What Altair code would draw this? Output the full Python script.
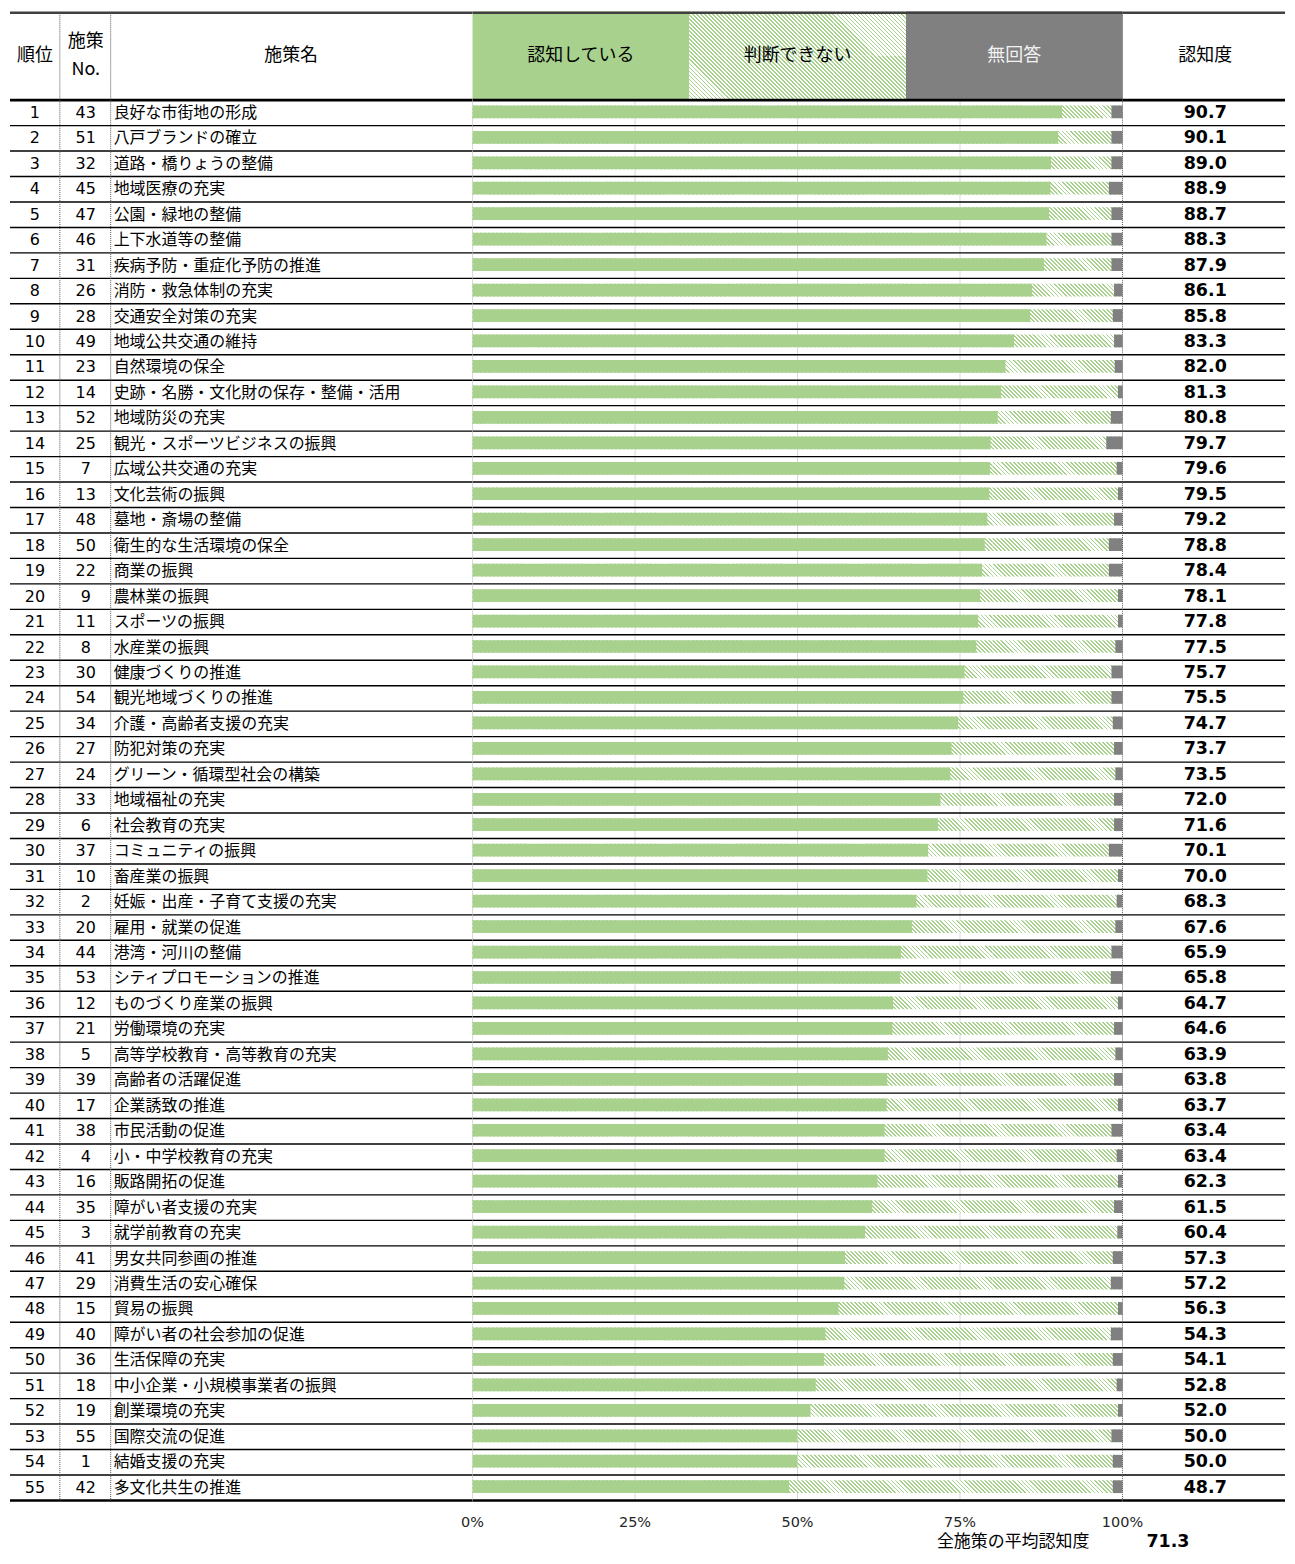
import altair as alt
import pandas as pd

# ---------------- data ----------------
ranks = list(range(1, 56))
policy_no = [43, 51, 32, 45, 47, 46, 31, 26, 28, 49, 23, 14, 52, 25, 7, 13, 48, 50, 22, 9,
             11, 8, 30, 54, 34, 27, 24, 33, 6, 37, 10, 2, 20, 44, 53, 12, 21, 5, 39, 17,
             38, 4, 16, 35, 3, 41, 29, 15, 40, 36, 18, 19, 55, 1, 42]
names = ["良好な市街地の形成", "八戸ブランドの確立", "道路・橋りょうの整備", "地域医療の充実",
         "公園・緑地の整備", "上下水道等の整備", "疾病予防・重症化予防の推進", "消防・救急体制の充実",
         "交通安全対策の充実", "地域公共交通の維持", "自然環境の保全", "史跡・名勝・文化財の保存・整備・活用",
         "地域防災の充実", "観光・スポーツビジネスの振興", "広域公共交通の充実", "文化芸術の振興",
         "墓地・斎場の整備", "衛生的な生活環境の保全", "商業の振興", "農林業の振興", "スポーツの振興",
         "水産業の振興", "健康づくりの推進", "観光地域づくりの推進", "介護・高齢者支援の充実",
         "防犯対策の充実", "グリーン・循環型社会の構築", "地域福祉の充実", "社会教育の充実",
         "コミュニティの振興", "畜産業の振興", "妊娠・出産・子育て支援の充実", "雇用・就業の促進",
         "港湾・河川の整備", "シティプロモーションの推進", "ものづくり産業の振興", "労働環境の充実",
         "高等学校教育・高等教育の充実", "高齢者の活躍促進", "企業誘致の推進", "市民活動の促進",
         "小・中学校教育の充実", "販路開拓の促進", "障がい者支援の充実", "就学前教育の充実",
         "男女共同参画の推進", "消費生活の安心確保", "貿易の振興", "障がい者の社会参加の促進",
         "生活保障の充実", "中小企業・小規模事業者の振興", "創業環境の充実", "国際交流の促進",
         "結婚支援の充実", "多文化共生の推進"]
recognized = [90.7, 90.1, 89.0, 88.9, 88.7, 88.3, 87.9, 86.1, 85.8, 83.3, 82.0, 81.3, 80.8,
              79.7, 79.6, 79.5, 79.2, 78.8, 78.4, 78.1, 77.8, 77.5, 75.7, 75.5, 74.7, 73.7,
              73.5, 72.0, 71.6, 70.1, 70.0, 68.3, 67.6, 65.9, 65.8, 64.7, 64.6, 63.9, 63.8,
              63.7, 63.4, 63.4, 62.3, 61.5, 60.4, 57.3, 57.2, 56.3, 54.3, 54.1, 52.8, 52.0,
              50.0, 50.0, 48.7]
no_answer = [1.7, 1.7, 1.7, 2.1, 1.7, 1.7, 1.7, 1.3, 1.5, 1.3, 1.2,
             0.7, 1.8, 2.5, 0.9, 0.7, 1.3, 2.1, 2.1, 0.7, 0.7, 1.1,
             1.7, 1.7, 1.5, 1.3, 1.1, 1.3, 1.3, 2.1, 0.7, 0.9, 1.1,
             1.7, 1.8, 0.7, 1.3, 1.1, 1.3, 0.7, 1.7, 0.9, 0.7, 1.3,
             0.8, 1.5, 1.8, 0.7, 1.8, 1.5, 0.9, 0.7, 1.7, 1.5, 1.5]
average = 71.3
tick_values = [0, 25, 50, 75, 100]
tick_labels = ["0%", "25%", "50%", "75%", "100%"]
legend_labels = ["認知している", "判断できない", "無回答"]

# ---------------- layout / style ----------------
GREEN = "#a9d18e"
GRAY = "#808080"
JP = "Noto Sans CJK JP"
NUM = "DejaVu Sans"
ROW = 25.54
HEAD = 89 / ROW
H = 1542
BOTTOM = H / ROW - HEAD
ROWPX = H / (HEAD + BOTTOM)
LEFT_W, BAR_W, RIGHT_W = 464, 652, 163
BAR_TOP, BAR_BOT = 0.21, 0.71
N = len(ranks)
TOP = -HEAD + 0.05
AXIS_Y = 55.88
FOOT_Y = 56.62

df = pd.DataFrame({
    "rank": ranks, "no": policy_no, "name": names,
    "recog": recognized, "noans": no_answer,
})
df["yc"] = df["rank"] - 0.5
df["yb1"] = df["rank"] - 1 + BAR_TOP
df["yb2"] = df["rank"] - 1 + BAR_BOT
df["start"] = 0
df["end"] = 100
df["na_start"] = 100 - df["noans"]
df["label"] = df["recog"].map(lambda v: f"{v:.1f}")

ys = alt.Scale(domain=[-HEAD, BOTTOM], reverse=True, nice=False, zero=False)


def Y(f):
    return alt.Y(f"{f}:Q", scale=ys, axis=None)


def Y2(f):
    return alt.Y2(f"{f}:Q")


thin_lines = pd.DataFrame({"y": [i for i in range(1, N)]})
thick_lines = pd.DataFrame({"y": [0, N]})
top_line = pd.DataFrame({"y": [TOP]})


def row_lines():
    return [
        alt.Chart(thin_lines).mark_rule(color="#000000", strokeWidth=1.4).encode(y=Y("y")),
        alt.Chart(thick_lines).mark_rule(color="#000000", strokeWidth=2.6).encode(y=Y("y")),
        alt.Chart(top_line).mark_rule(color="#404040", strokeWidth=2.6).encode(y=Y("y")),
    ]


def stripes(w, h, period, frac=0.45, ink=GREEN, paper="#ffffff"):
    # diagonal "\" stripes for one tile of w x h pixels
    r = h / w
    s = (1 + r) / (1 + r * r)
    L = w + h
    stops = []
    k = 0
    while k * period < L:
        a = k * period / L
        b = min((k * period + frac * period) / L, 1.0)
        c = min((k + 1) * period / L, 1.0)
        stops += [(ink, a), (ink, b), (paper, b), (paper, c)]
        k += 1
    return alt.LinearGradient(
        gradient="linear", x1=0, y1=1, x2=round(s, 6), y2=round(1 - s * r, 6),
        stops=[alt.GradientStop(color=col, offset=round(o, 6)) for col, o in stops],
    )


# ---------------- left table ----------------
lx = alt.Scale(domain=[0, LEFT_W], range=[0, LEFT_W], nice=False, zero=False)


def LX(f):
    return alt.X(f"{f}:Q", scale=lx, axis=None)


vlines = pd.DataFrame({"x": [50, 101], "y1": [TOP, TOP], "y2": [N, N]})
left_head = pd.DataFrame({
    "t": ["順位", "施策", "No.", "施策名"],
    "x": [25, 76, 76, 282],
    "y": [-1.72, -2.3, -1.18, -1.72],
})

left = alt.layer(
    *row_lines(),
    alt.Chart(vlines).mark_rule(color="#555555", strokeWidth=1, strokeDash=[1, 1]).encode(
        x=LX("x"), y=Y("y1"), y2=Y2("y2")),
    alt.Chart(left_head).mark_text(font=JP, fontSize=18, color="#000000", baseline="middle").encode(
        x=LX("x"), y=Y("y"), text="t:N"),
    alt.Chart(df).transform_calculate(xr="25").mark_text(
        font=NUM, fontSize=16, color="#000000", baseline="middle").encode(
        x=LX("xr"), y=Y("yc"), text="rank:N"),
    alt.Chart(df).transform_calculate(xn="76").mark_text(
        font=NUM, fontSize=16, color="#000000", baseline="middle").encode(
        x=LX("xn"), y=Y("yc"), text="no:N"),
    alt.Chart(df).transform_calculate(xt="104").mark_text(
        font=JP, fontSize=16, color="#000000", baseline="middle", align="left").encode(
        x=LX("xt"), y=Y("yc"), text="name:N"),
).properties(width=LEFT_W, height=H)

# ---------------- bar panel ----------------
xs = alt.Scale(domain=[0, 100], nice=False, zero=False)


def BX(f):
    return alt.X(f"{f}:Q", scale=xs, axis=None)


third = 100 / 3
head_solid = pd.DataFrame({
    "x1": [0, 2 * third], "x2": [third, 100],
    "y1": [-HEAD, -HEAD], "y2": [0, 0], "c": [GREEN, GRAY],
})

# texture tiles for the "判断できない" hatch (header: 6 x 2 tiles; body: 20 tiles per row)
HX, HY = 6, 2
head_tiles = pd.DataFrame([
    {"x1": third + third * j / HX, "x2": third + third * (j + 1) / HX,
     "y1": -HEAD + HEAD * i / HY, "y2": -HEAD + HEAD * (i + 1) / HY}
    for i in range(HY) for j in range(HX)
])
head_tile_w = BAR_W / 3 / HX
head_tile_h = HEAD * ROWPX / HY
head_grad = stripes(head_tile_w, head_tile_h, head_tile_w / 9)

BT = 20
body_tiles = pd.DataFrame([
    {"x1": 100 * j / BT, "x2": 100 * (j + 1) / BT, "y1": r - 1 + BAR_TOP, "y2": r - 1 + BAR_BOT}
    for r in ranks for j in range(BT)
])
body_tile_w = BAR_W / BT
body_grad = stripes(body_tile_w, (BAR_BOT - BAR_TOP) * ROWPX, body_tile_w / 8)

head_text = pd.DataFrame({
    "t": legend_labels, "x": [third / 2, 1.5 * third, 2.5 * third],
    "y": [-1.72] * 3, "c": ["#000000", "#000000", "#f2f2f2"],
})
grid = pd.DataFrame({"x": tick_values[:-1], "y1": [0] * 4, "y2": [N] * 4})
right_edge = pd.DataFrame({"x": [100], "y1": [TOP], "y2": [N]})
ticks = pd.DataFrame({"x": tick_values, "t": tick_labels, "y": [AXIS_Y] * 5})
footer = pd.DataFrame({"x": [94.9], "y": [FOOT_Y], "t": ["全施策の平均認知度"]})

bar = alt.layer(
    alt.Chart(head_solid).mark_rect().encode(
        x=BX("x1"), x2="x2:Q", y=Y("y1"), y2=Y2("y2"), color=alt.Color("c:N", scale=None)),
    alt.Chart(head_tiles).mark_rect(fill=head_grad).encode(
        x=BX("x1"), x2="x2:Q", y=Y("y1"), y2=Y2("y2")),
    alt.Chart(head_text).mark_text(font=JP, fontSize=18, baseline="middle").encode(
        x=BX("x"), y=Y("y"), text="t:N", color=alt.Color("c:N", scale=None)),
    alt.Chart(grid).mark_rule(color="#d9d9d9", strokeWidth=1).encode(
        x=BX("x"), y=Y("y1"), y2=Y2("y2")),
    alt.Chart(body_tiles).mark_rect(fill=body_grad).encode(
        x=BX("x1"), x2="x2:Q", y=Y("y1"), y2=Y2("y2")),
    alt.Chart(df).mark_rect(color=GREEN).encode(
        x=BX("start"), x2="recog:Q", y=Y("yb1"), y2=Y2("yb2")),
    alt.Chart(df).mark_rect(color=GRAY).encode(
        x=BX("na_start"), x2="end:Q", y=Y("yb1"), y2=Y2("yb2")),
    *row_lines(),
    alt.Chart(right_edge).mark_rule(color="#666666", strokeWidth=1, strokeDash=[1, 1]).encode(
        x=BX("x"), y=Y("y1"), y2=Y2("y2")),
    alt.Chart(ticks).mark_text(font=NUM, fontSize=14.5, color="#262626", baseline="middle").encode(
        x=BX("x"), y=Y("y"), text="t:N"),
    alt.Chart(footer).mark_text(font=JP, fontSize=17, color="#000000", baseline="middle", align="right").encode(
        x=BX("x"), y=Y("y"), text="t:N"),
).properties(width=BAR_W, height=H)

# ---------------- right table ----------------
rx = alt.Scale(domain=[0, RIGHT_W], range=[0, RIGHT_W], nice=False, zero=False)


def RX(f):
    return alt.X(f"{f}:Q", scale=rx, axis=None)


right_head = pd.DataFrame({"t": ["認知度"], "x": [83], "y": [-1.72]})
avg_df = pd.DataFrame({"t": [f"{average:.1f}"], "x": [24], "y": [FOOT_Y]})

right = alt.layer(
    *row_lines(),
    alt.Chart(right_head).mark_text(font=JP, fontSize=18, color="#000000", baseline="middle").encode(
        x=RX("x"), y=Y("y"), text="t:N"),
    alt.Chart(df).transform_calculate(xv="83").mark_text(
        font=NUM, fontSize=17.5, fontWeight="bold", color="#000000", baseline="middle").encode(
        x=RX("xv"), y=Y("yc"), text="label:N"),
    alt.Chart(avg_df).mark_text(
        font=NUM, fontSize=17.5, fontWeight="bold", color="#000000", baseline="middle", align="left").encode(
        x=RX("x"), y=Y("y"), text="t:N"),
).properties(width=RIGHT_W, height=H)

chart = alt.hconcat(
    left, bar, right, spacing=0, bounds="flush",
    padding={"left": 0, "top": 0, "right": 0, "bottom": 0},
).configure_view(stroke=None)

chart.save("out.html", embed_options={"renderer": "svg", "actions": False})
